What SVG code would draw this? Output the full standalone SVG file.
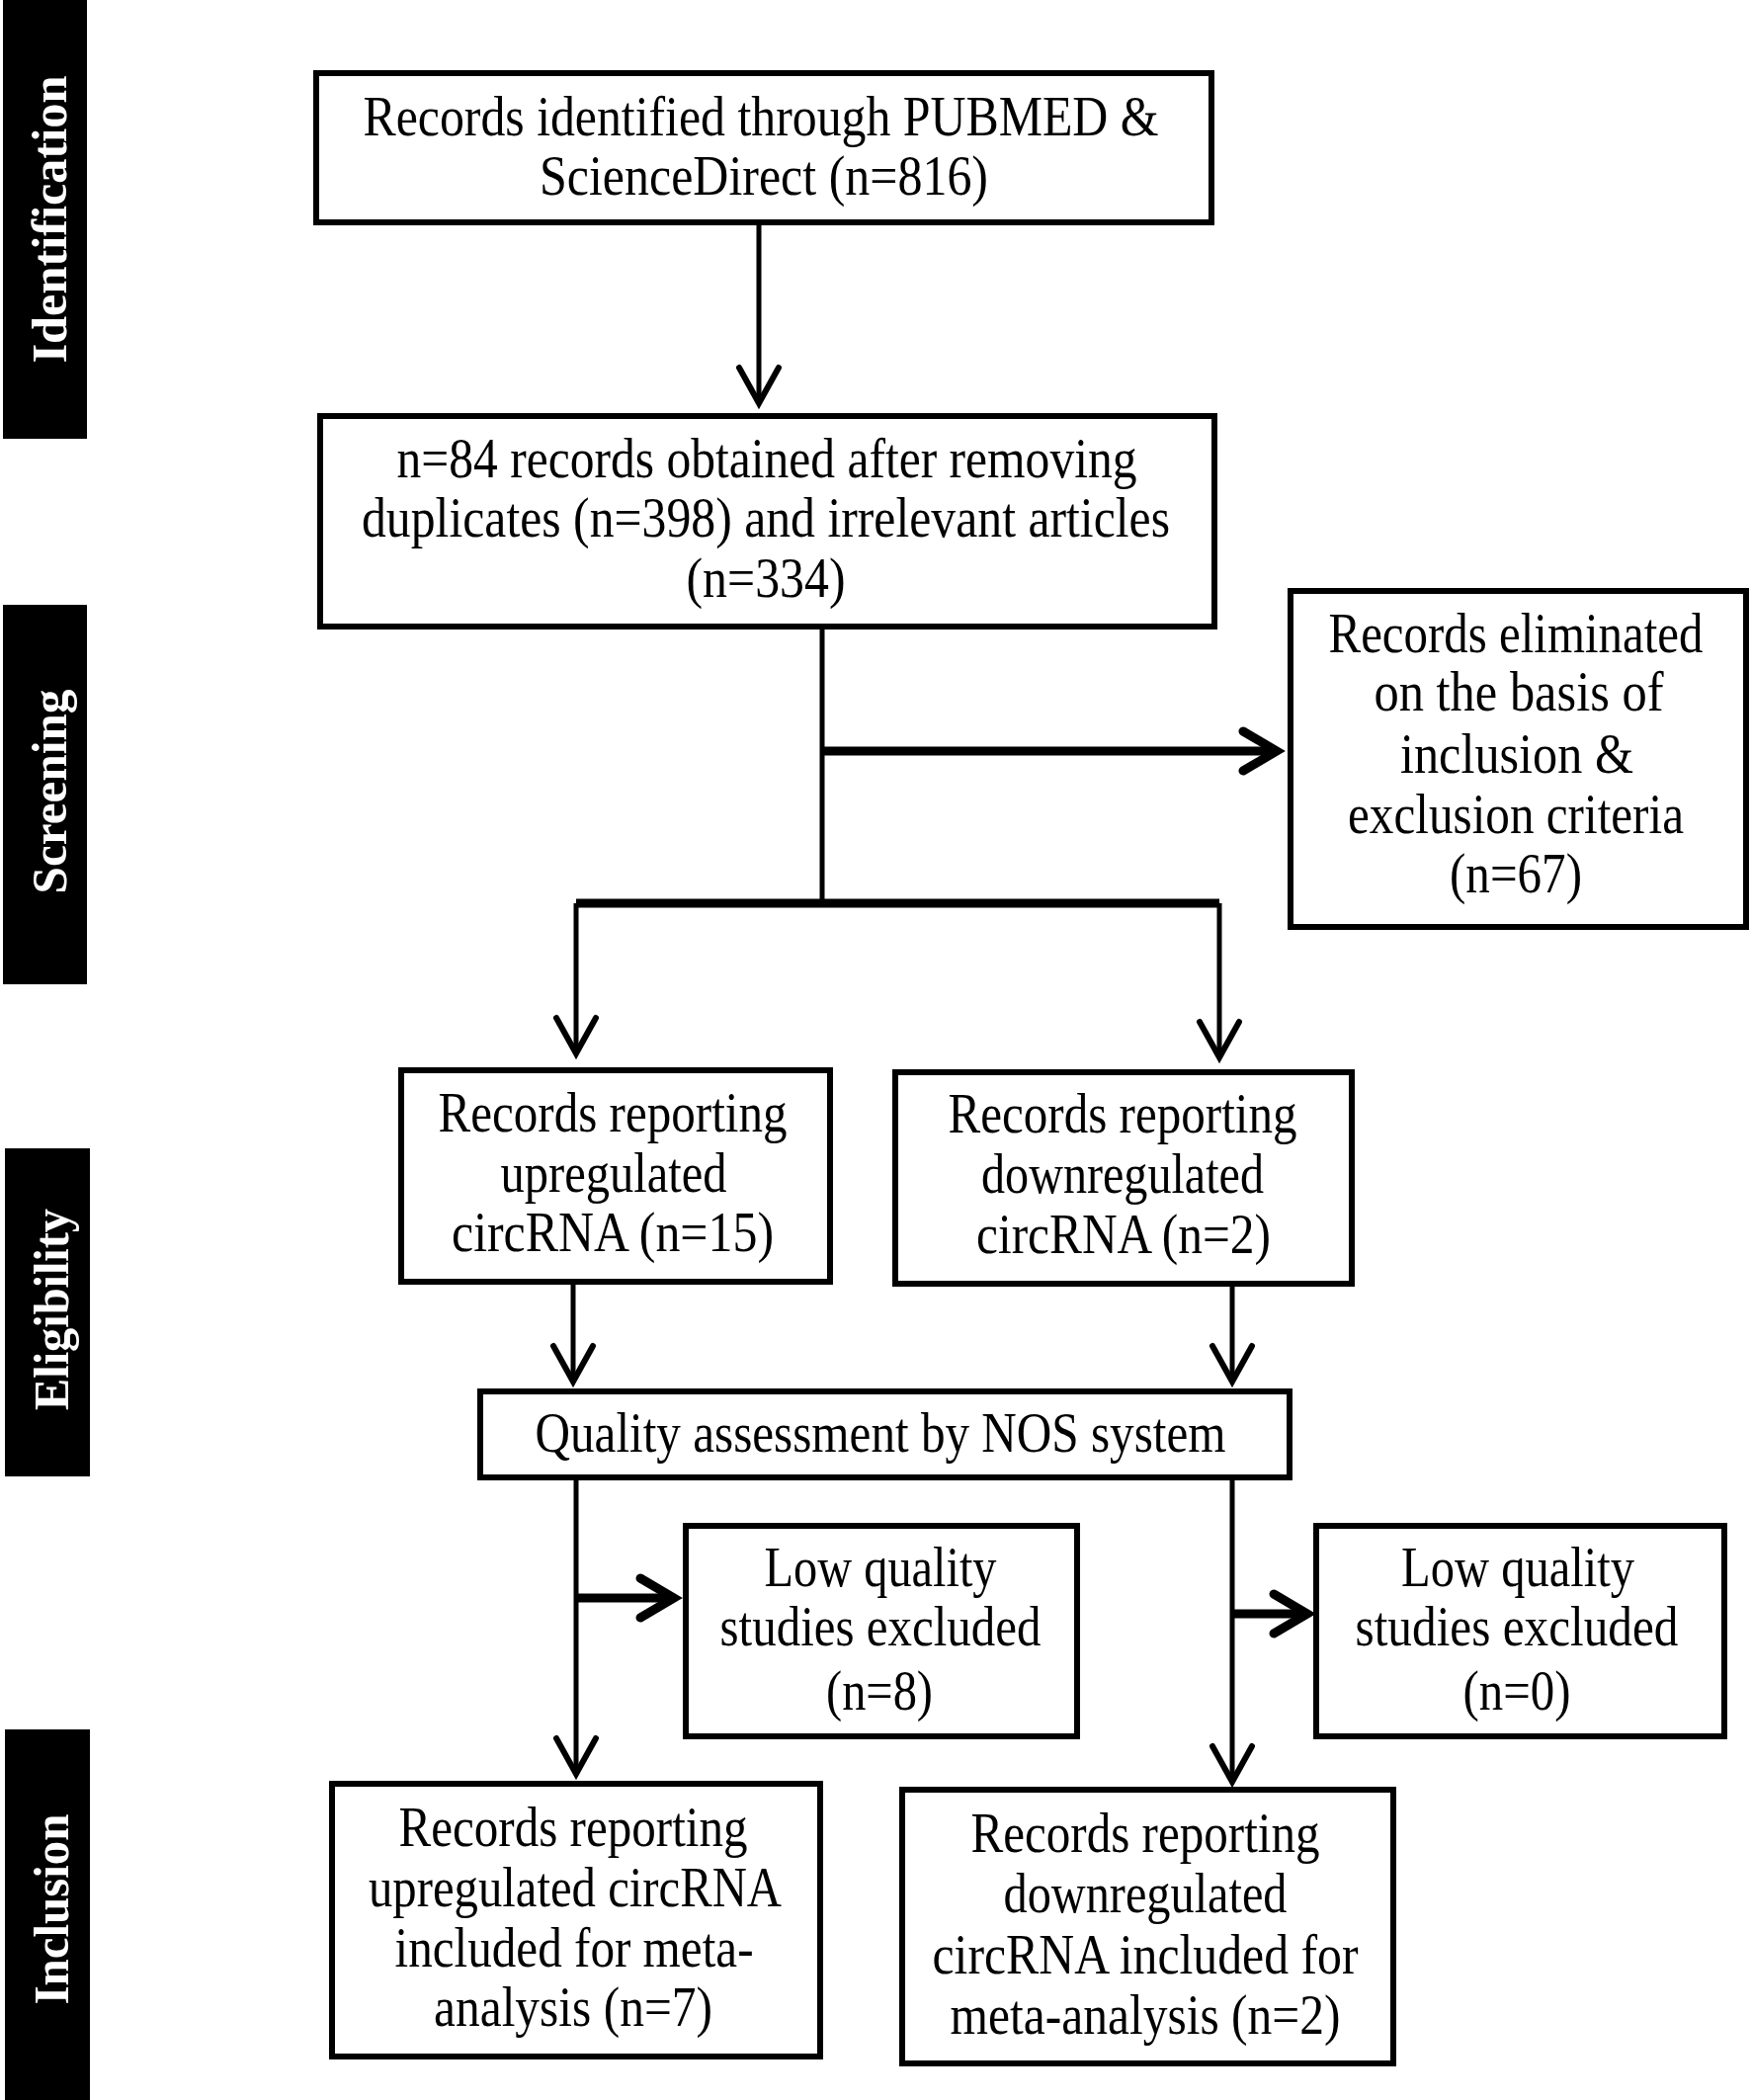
<svg xmlns="http://www.w3.org/2000/svg" width="1772" height="2125" viewBox="0 0 1772 2125">
<defs>
<style>
.box{fill:#fff;stroke:#000;stroke-width:6}
.t{font-family:"Liberation Serif","Times New Roman",serif;font-size:56px;fill:#000;text-anchor:middle}
.side{font-family:"Liberation Serif","Times New Roman",serif;font-size:50px;font-weight:bold;fill:#fff;text-anchor:middle}
.bar{fill:#000}
.v{stroke:#000;stroke-width:5;fill:none}
.h{stroke:#000;stroke-width:9;fill:none}
</style>
<marker id="av" markerUnits="userSpaceOnUse" markerWidth="60" markerHeight="60" refX="0" refY="0" orient="auto" overflow="visible">
<path d="M-36,-20 L0,0 L-36,20" fill="none" stroke="#000" stroke-width="6" stroke-linecap="round" stroke-linejoin="miter"/>
</marker>
<marker id="ah" markerUnits="userSpaceOnUse" markerWidth="60" markerHeight="60" refX="0" refY="0" orient="auto" overflow="visible">
<path d="M-34,-20 L0,0 L-34,20" fill="none" stroke="#000" stroke-width="9" stroke-linecap="round" stroke-linejoin="miter"/>
</marker>
</defs>
<rect width="1772" height="2125" fill="#fff"/>

<g id="phase-identification">
<rect class="bar" x="3" y="0" width="85" height="444"/>
<text class="side" transform="translate(67,222) rotate(-90)" textLength="291" lengthAdjust="spacingAndGlyphs">Identification</text>
</g>
<g id="phase-screening">
<rect class="bar" x="3" y="612" width="85" height="384"/>
<text class="side" transform="translate(67,801) rotate(-90)" textLength="207" lengthAdjust="spacingAndGlyphs">Screening</text>
</g>
<g id="phase-eligibility">
<rect class="bar" x="5" y="1162" width="86" height="332"/>
<text class="side" transform="translate(69,1325) rotate(-90)" textLength="204" lengthAdjust="spacingAndGlyphs">Eligibility</text>
</g>
<g id="phase-inclusion">
<rect class="bar" x="5" y="1750" width="86" height="375"/>
<text class="side" transform="translate(69,1932) rotate(-90)" textLength="193" lengthAdjust="spacingAndGlyphs">Inclusion</text>
</g>

<g id="connectors">
<path class="v" d="M768,225 V408" marker-end="url(#av)"/>
<path class="v" d="M832,634 V914"/>
<path class="h" d="M832,760 H1292" marker-end="url(#ah)"/>
<path class="h" d="M583,914 H1234"/>
<path class="v" d="M583,914 V1066" marker-end="url(#av)"/>
<path class="v" d="M1234,914 V1070" marker-end="url(#av)"/>
<path class="v" d="M580,1297 V1398" marker-end="url(#av)"/>
<path class="v" d="M1247,1299 V1398" marker-end="url(#av)"/>
<path class="v" d="M583,1495 V1795" marker-end="url(#av)"/>
<path class="v" d="M1247,1495 V1803" marker-end="url(#av)"/>
<path class="h" d="M583,1617 H682" marker-end="url(#ah)"/>
<path class="h" d="M1247,1633 H1323" marker-end="url(#ah)"/>
</g>

<g id="node-identified">
<rect class="box" x="320" y="74" width="906" height="151"/>
<text class="t" x="770" y="137" textLength="805" lengthAdjust="spacingAndGlyphs">Records identified through PUBMED &amp;</text>
<text class="t" x="773" y="197" textLength="454" lengthAdjust="spacingAndGlyphs">ScienceDirect (n=816)</text>
</g>

<g id="node-after-removing">
<rect class="box" x="324" y="421" width="905" height="213"/>
<text class="t" x="776" y="483" textLength="749" lengthAdjust="spacingAndGlyphs">n=84 records obtained after removing</text>
<text class="t" x="775" y="543" textLength="818" lengthAdjust="spacingAndGlyphs">duplicates (n=398) and irrelevant articles</text>
<text class="t" x="775" y="604" textLength="161" lengthAdjust="spacingAndGlyphs">(n=334)</text>
</g>

<g id="node-eliminated">
<rect class="box" x="1306" y="598" width="461" height="340"/>
<text class="t" x="1534" y="660" textLength="379" lengthAdjust="spacingAndGlyphs">Records eliminated</text>
<text class="t" x="1537" y="719" textLength="293" lengthAdjust="spacingAndGlyphs">on the basis of</text>
<text class="t" x="1535" y="782" textLength="236" lengthAdjust="spacingAndGlyphs">inclusion &amp;</text>
<text class="t" x="1534" y="843" textLength="340" lengthAdjust="spacingAndGlyphs">exclusion criteria</text>
<text class="t" x="1534" y="903" textLength="134" lengthAdjust="spacingAndGlyphs">(n=67)</text>
</g>

<g id="node-up">
<rect class="box" x="406" y="1083" width="434" height="214"/>
<text class="t" x="620" y="1145" textLength="353" lengthAdjust="spacingAndGlyphs">Records reporting</text>
<text class="t" x="621" y="1206" textLength="229" lengthAdjust="spacingAndGlyphs">upregulated</text>
<text class="t" x="620" y="1266" textLength="326" lengthAdjust="spacingAndGlyphs">circRNA (n=15)</text>
</g>

<g id="node-down">
<rect class="box" x="906" y="1085" width="462" height="214"/>
<text class="t" x="1136" y="1146" textLength="353" lengthAdjust="spacingAndGlyphs">Records reporting</text>
<text class="t" x="1136" y="1207" textLength="286" lengthAdjust="spacingAndGlyphs">downregulated</text>
<text class="t" x="1137" y="1268" textLength="298" lengthAdjust="spacingAndGlyphs">circRNA (n=2)</text>
</g>

<g id="node-quality">
<rect class="box" x="486" y="1408" width="819" height="87"/>
<text class="t" x="891" y="1469" textLength="699" lengthAdjust="spacingAndGlyphs">Quality assessment by NOS system</text>
</g>

<g id="node-low-up">
<rect class="box" x="694" y="1544" width="396" height="213"/>
<text class="t" x="891" y="1605" textLength="235" lengthAdjust="spacingAndGlyphs">Low quality</text>
<text class="t" x="891" y="1665" textLength="325" lengthAdjust="spacingAndGlyphs">studies excluded</text>
<text class="t" x="890" y="1730" textLength="108" lengthAdjust="spacingAndGlyphs">(n=8)</text>
</g>

<g id="node-low-down">
<rect class="box" x="1332" y="1544" width="413" height="213"/>
<text class="t" x="1536" y="1605" textLength="236" lengthAdjust="spacingAndGlyphs">Low quality</text>
<text class="t" x="1535" y="1665" textLength="327" lengthAdjust="spacingAndGlyphs">studies excluded</text>
<text class="t" x="1535" y="1730" textLength="109" lengthAdjust="spacingAndGlyphs">(n=0)</text>
</g>

<g id="node-incl-up">
<rect class="box" x="336" y="1805" width="494" height="276"/>
<text class="t" x="580" y="1868" textLength="353" lengthAdjust="spacingAndGlyphs">Records reporting</text>
<text class="t" x="582" y="1929" textLength="418" lengthAdjust="spacingAndGlyphs">upregulated circRNA</text>
<text class="t" x="581" y="1990" textLength="363" lengthAdjust="spacingAndGlyphs">included for meta-</text>
<text class="t" x="580" y="2050" textLength="282" lengthAdjust="spacingAndGlyphs">analysis (n=7)</text>
</g>

<g id="node-incl-down">
<rect class="box" x="913" y="1811" width="497" height="277"/>
<text class="t" x="1159" y="1874" textLength="353" lengthAdjust="spacingAndGlyphs">Records reporting</text>
<text class="t" x="1159" y="1935" textLength="287" lengthAdjust="spacingAndGlyphs">downregulated</text>
<text class="t" x="1159" y="1997" textLength="431" lengthAdjust="spacingAndGlyphs">circRNA included for</text>
<text class="t" x="1159" y="2058" textLength="395" lengthAdjust="spacingAndGlyphs">meta-analysis (n=2)</text>
</g>
</svg>
